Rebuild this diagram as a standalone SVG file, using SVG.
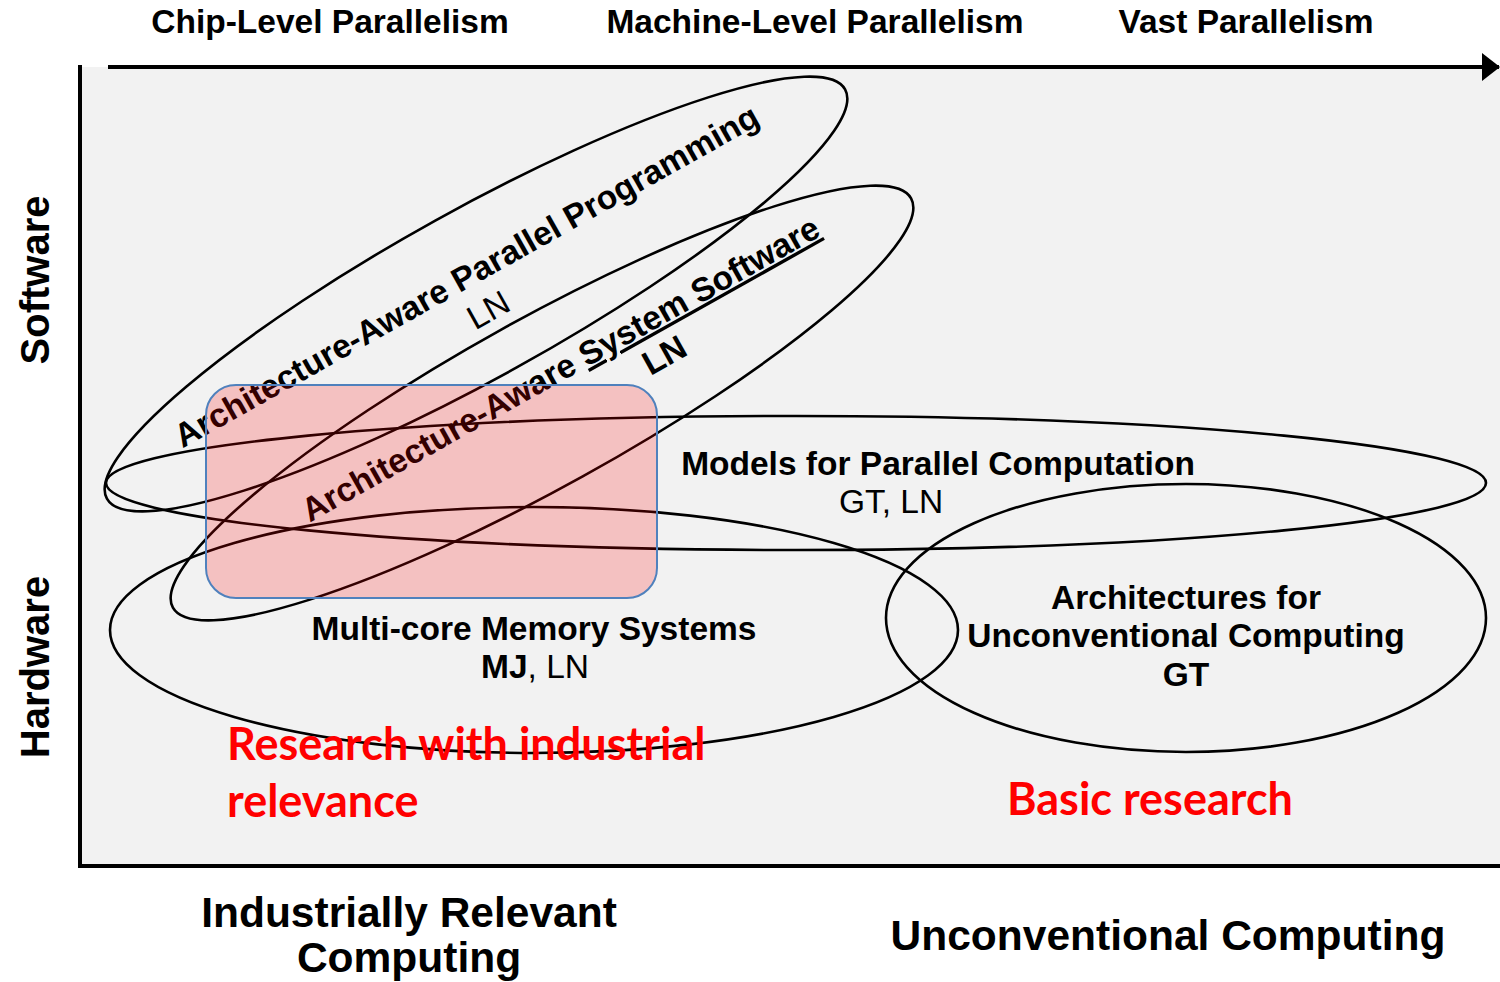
<svg xmlns="http://www.w3.org/2000/svg" width="1500" height="982" viewBox="0 0 1500 982">
<defs>
<style>
.b{font-family:"Liberation Sans",Arial,sans-serif;font-weight:bold;font-size:33.5px;fill:#000}
.r{font-family:"Liberation Sans",Arial,sans-serif;font-weight:normal;font-size:33.5px;fill:#000}
.ax{font-family:"Liberation Sans",Arial,sans-serif;font-weight:bold;fill:#000}
.red{font-family:Lato,"Liberation Sans",sans-serif;font-weight:bold;font-size:45px;fill:#ff0000}
.ell{fill:none;stroke:#000;stroke-width:2.6}
.axis{fill:none;stroke:#000;stroke-width:4}
</style>
<marker id="arr" markerWidth="18" markerHeight="28" refX="17" refY="14" orient="auto" markerUnits="userSpaceOnUse">
<path d="M0,0 L18,14 L0,28 Z" fill="#000"/>
</marker>
</defs>
<rect x="0" y="0" width="1500" height="982" fill="#fff"/>
<rect x="80" y="67" width="1420" height="799" fill="#f2f2f2"/>

<g id="connectors">
<line class="axis" x1="80" y1="65" x2="80" y2="868"/>
<line class="axis" x1="78" y1="866" x2="1500" y2="866"/>
<line class="axis" x1="108" y1="67" x2="1499" y2="67" marker-end="url(#arr)"/>
</g>

<g id="axis-labels">
<text class="ax" font-size="33.5" x="330" y="33" text-anchor="middle">Chip-Level Parallelism</text>
<text class="ax" font-size="33.5" x="815" y="33" text-anchor="middle">Machine-Level Parallelism</text>
<text class="ax" font-size="33.5" x="1246" y="33" text-anchor="middle">Vast Parallelism</text>
<text class="ax" font-size="40" transform="translate(49,280) rotate(-90)" text-anchor="middle">Software</text>
<text class="ax" font-size="40" transform="translate(49,667) rotate(-90)" text-anchor="middle">Hardware</text>
<text class="ax" font-size="42.5" x="409" y="927" text-anchor="middle">Industrially Relevant</text>
<text class="ax" font-size="42.5" x="409" y="972" text-anchor="middle">Computing</text>
<text class="ax" font-size="42.5" x="1168" y="950" text-anchor="middle">Unconventional Computing</text>
</g>

<g id="node-parallel-programming">
<ellipse class="ell" cx="476" cy="294" rx="422" ry="84" transform="rotate(-29 476 294)"/>
<text class="b" transform="translate(472,286) rotate(-29.3)" text-anchor="middle">Architecture-Aware Parallel Programming</text>
<text class="r" transform="translate(494,320) rotate(-29.3)" text-anchor="middle">LN</text>
</g>

<g id="node-system-software">
<ellipse class="ell" cx="542" cy="403" rx="422" ry="84" transform="rotate(-29 542 403)"/>
<text class="b" transform="translate(566,379) rotate(-29.3)" text-anchor="middle">Architecture-Aware <tspan text-decoration="underline">System Software</tspan></text>
<text class="b" transform="translate(670,365) rotate(-29.3)" text-anchor="middle">LN</text>
</g>

<g id="node-models">
<ellipse class="ell" cx="796" cy="483" rx="690" ry="67"/>
<text class="b" x="938" y="475" text-anchor="middle">Models for Parallel Computation</text>
<text class="r" x="891" y="513" text-anchor="middle">GT, LN</text>
</g>

<g id="node-multicore">
<ellipse class="ell" cx="534" cy="630" rx="424" ry="123"/>
<text class="b" x="534" y="640" text-anchor="middle">Multi-core Memory Systems</text>
<text class="r" x="535" y="678" text-anchor="middle"><tspan class="b">MJ</tspan>, LN</text>
</g>

<g id="node-unconventional">
<ellipse class="ell" cx="1186" cy="618" rx="300" ry="134"/>
<text class="b" x="1186" y="609" text-anchor="middle">Architectures for</text>
<text class="b" x="1186" y="647" text-anchor="middle">Unconventional Computing</text>
<text class="b" x="1186" y="686" text-anchor="middle">GT</text>
</g>

<g id="node-focus">
<rect x="206" y="385" width="451" height="213" rx="30" ry="30" fill="#ff0000" fill-opacity="0.2" stroke="#4f81bd" stroke-width="2"/>
</g>

<g id="red-labels">
<text class="red" x="227" y="760">Research with industrial</text>
<text class="red" x="227" y="817">relevance</text>
<text class="red" x="1007" y="815">Basic research</text>
</g>
</svg>
